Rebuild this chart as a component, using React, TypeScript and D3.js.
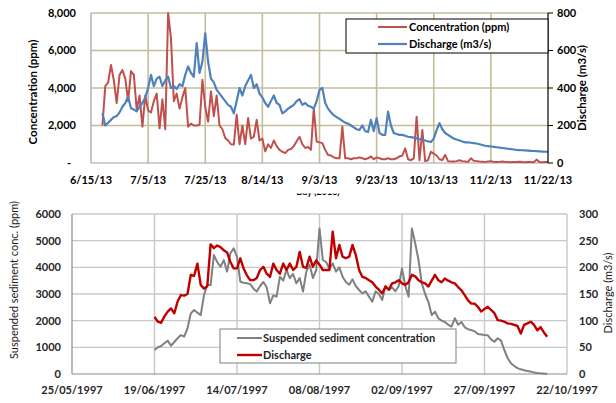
import React from "react";
import * as d3 from "d3";

// ---------- Top chart data (daily, starting 6/19/2013) ----------
const topStart = "2013-06-19";
const topConcentration = [
  2000, 4100, 4300, 5230, 4400, 3200, 4700, 4960, 4500, 3300,
  4900, 4700, 2830, 3600, 1940, 3600, 2800, 2700, 3300, 3700,
  1850, 3400, 1800, 8000, 6660, 3300, 3700, 2900, 3500, 4000,
  1940, 2100, 2000, 2000, 2040, 4440, 3000, 2200, 3820, 2500,
  3600, 2000, 1800, 1330, 1200, 1000, 980, 2580, 1000, 2000,
  1000, 2400, 1300, 1400, 2300, 1200, 1300, 620, 1000, 800,
  1200, 900, 700, 600, 530, 700, 750, 900, 1160, 1400,
  1000, 800, 850, 700, 2920, 1140, 1100, 1060, 700, 430,
  400, 300, 250, 250, 1940, 250, 250, 200, 250, 250,
  300, 250, 200, 250, 350, 200, 300, 250, 200, 200,
  250, 200, 200, 250, 350, 400, 780, 200, 150, 250,
  2470, 150, 1760, 100, 150, 600, 500, 400, 200, 160,
  430, 100, 80, 80, 100, 150, 100, 80, 60, 250,
  120, 100, 80, 70, 60, 80, 100, 60, 50, 60,
  80, 60, 50, 40, 60, 50, 70, 50, 40, 50,
  60, 40, 180, 50, 40, 60, 50,
];
const topDischarge = [
  265, 200, 215, 230, 245, 250, 270, 300, 320, 355,
  292, 285, 275, 300, 320, 350, 400, 470, 410, 450,
  460, 410, 440, 460, 400, 410, 395, 420, 410, 470,
  515, 480, 460, 640, 480, 540, 692, 540, 450, 430,
  390, 370, 350, 330, 310, 300, 265, 330, 400, 360,
  410, 440, 470, 400, 420, 370, 350, 320, 300, 330,
  360, 320, 310, 265, 275, 290, 300, 310, 330, 340,
  310, 320, 305, 300, 290, 330, 390, 400, 320, 290,
  270, 255, 245, 235, 225, 215, 210, 200, 190, 180,
  176, 200, 170, 165, 230, 170, 240, 160, 150, 150,
  274, 200, 160, 155, 150, 150, 145, 140, 138, 135,
  131, 127, 124, 120, 115, 112, 130, 175, 212, 180,
  160, 150, 140, 130, 125, 120, 115, 110, 110, 108,
  106, 104, 100, 96, 92, 90, 88, 86, 84, 82,
  80, 78, 76, 74, 72, 70, 69, 68, 67, 66,
  65, 64, 63, 62, 61, 60, 60,
];
const topXLabels = ["6/15/13", "7/5/13", "7/25/13", "8/14/13", "9/3/13", "9/23/13", "10/13/13", "11/2/13", "11/22/13"];
const topLeftTicks = [0, 2000, 4000, 6000, 8000];
const topRightTicks = [0, 200, 400, 600, 800];
const topSeriesNames = ["Concentration (ppm)", "Discharge (m3/s)"];

// ---------- Bottom chart data (daily, starting 19/06/1997) ----------
const botStart = "1997-06-19";
const botSSC = [
  900, 1000, 1050, 1150, 1250, 1060, 1200, 1340, 1460, 1400,
  1710, 2275, 2400, 2300, 2210, 2960, 3340, 3340, 4460, 4200,
  4020, 4270, 3840, 4530, 4710, 4400, 3460, 3420, 3400, 3370,
  3200, 3090, 3300, 3450, 3250, 2650, 2950, 2900, 3650, 3500,
  3900, 3600, 3750, 3400, 3600, 3090, 3840, 4100, 3600, 3900,
  5460, 4275, 4200, 3950, 4150, 3840, 4000, 3650, 3450, 3350,
  3550, 3300, 3150, 3025, 3100, 2900, 2710, 3100, 3000, 2775,
  3300, 3150, 3250, 3100, 3300, 3960, 3300, 2900, 5460, 4900,
  4275, 3400, 3000, 2700, 2210, 2340, 2090, 2000, 1950, 1850,
  1780, 2090, 1850, 1950, 1750, 1680, 1650, 1600, 1500, 1480,
  1460, 1450, 1300, 1210, 1340, 1250, 900, 600, 400, 300,
  220, 175, 140, 110, 90, 60, 40, 25, 15, 10,
];
const botDischarge = [
  107, 98, 96, 108, 117, 123, 114, 136, 148, 147,
  150, 186, 184, 207, 167, 160, 165, 243, 236, 241,
  238, 232, 228, 210, 198, 198, 217, 198, 185, 176,
  176, 180, 195, 201, 188, 182, 207, 195, 188, 207,
  195, 207, 195, 201, 229, 201, 199, 220, 201, 213,
  205, 195, 195, 195, 267, 217, 242, 220, 217, 220,
  242, 223, 195, 182, 180, 176, 172, 164, 158, 151,
  164, 158, 170, 172, 176, 170, 167, 172, 186, 183,
  176, 172, 170, 164, 175, 186, 176, 172, 179, 175,
  172, 170, 163, 157, 148, 138, 132, 132, 126, 117,
  122, 126, 120, 114, 101, 100, 98, 95, 94, 92,
  90, 76, 92, 95, 98, 92, 82, 88, 78, 70,
];
const botXLabels = ["25/05/1997", "19/06/1997", "14/07/1997", "08/08/1997", "02/09/1997", "27/09/1997", "22/10/1997"];
const botLeftTicks = [0, 1000, 2000, 3000, 4000, 5000, 6000];
const botRightTicks = [0, 50, 100, 150, 200, 250, 300];
const botSeriesNames = ["Suspended sediment concentration", "Discharge"];

const FONT = "Lato, 'Liberation Sans', sans-serif";

function TopChart() {
  const parseTop = d3.timeParse("%m/%d/%y");
  const tickDates = topXLabels.map((l) => parseTop(l) as Date);
  const x = d3.scaleTime().domain([tickDates[0], tickDates[tickDates.length - 1]]).range([91, 548]);
  const yL = d3.scaleLinear().domain([0, 8000]).range([163, 13]);
  const yR = d3.scaleLinear().domain([0, 800]).range([163, 13]);
  const start = d3.timeParse("%Y-%m-%d")(topStart) as Date;
  const lineL = d3.line<number>().x((_, i) => x(d3.timeDay.offset(start, i))).y((v) => yL(v));
  const lineR = d3.line<number>().x((_, i) => x(d3.timeDay.offset(start, i))).y((v) => yR(v));
  const grid = "#c4bd97";
  const fmt = (v: number) => (v === 0 ? "-" : d3.format(",")(v));
  return (
    <g fontFamily={FONT} fontWeight="bold" fontSize={11} fill="#000">
      {topLeftTicks.filter((t) => t > 0).map((t) => (
        <line key={"hg" + t} x1={91} x2={548} y1={yL(t)} y2={yL(t)} stroke={grid} strokeWidth={1.6} />
      ))}
      {tickDates.slice(1, -1).map((d, i) => (
        <line key={"vg" + i} x1={x(d)} x2={x(d)} y1={13} y2={163} stroke={grid} strokeWidth={1.6} />
      ))}
      <line x1={91} x2={91} y1={13} y2={163} stroke="#a0a0a0" strokeWidth={1.2} />
      <line x1={91} x2={548} y1={163} y2={163} stroke="#a0a0a0" strokeWidth={1.2} />
      <path d={lineL(topConcentration) || ""} fill="none" stroke="#c0504d" strokeWidth={2} strokeLinejoin="round" />
      <path d={lineR(topDischarge) || ""} fill="none" stroke="#4f81bd" strokeWidth={2.2} strokeLinejoin="round" />
      <line x1={548} x2={548} y1={13} y2={163} stroke="#000" strokeWidth={1.2} />
      {topRightTicks.map((t) => (
        <g key={"rt" + t}>
          <line x1={548} x2={553} y1={yR(t)} y2={yR(t)} stroke="#000" strokeWidth={1} />
          <text x={557} y={yR(t)} dy="0.35em">{t}</text>
        </g>
      ))}
      {topLeftTicks.map((t) => (
        <text key={"lt" + t} x={t === 0 ? 71 : 76} y={yL(t)} dy="0.35em" textAnchor="end">{fmt(t)}</text>
      ))}
      {tickDates.map((d, i) => (
        <text key={"xt" + i} x={x(d)} y={184} textAnchor="middle">{topXLabels[i]}</text>
      ))}
      <text transform="translate(37,92) rotate(-90)" textAnchor="middle" fontSize={11.5}>Concentration (ppm)</text>
      <text transform="translate(586,88) rotate(-90)" textAnchor="middle" fontSize={11.5}>Discharge (m3/s)</text>
      <rect x={346} y={19} width={202} height={34} fill="#fff" stroke="#000" strokeWidth={1} />
      <line x1={378} x2={407} y1={27} y2={27} stroke="#c0504d" strokeWidth={2} />
      <text x={409} y={27} dy="0.35em">{topSeriesNames[0]}</text>
      <line x1={378} x2={407} y1={44} y2={44} stroke="#4f81bd" strokeWidth={2.2} />
      <text x={409} y={44} dy="0.35em">{topSeriesNames[1]}</text>
    </g>
  );
}

function BottomChart() {
  const parseBot = d3.timeParse("%d/%m/%Y");
  const tickDates = botXLabels.map((l) => parseBot(l) as Date);
  const x = d3.scaleTime().domain([tickDates[0], tickDates[tickDates.length - 1]]).range([72, 567]);
  const yL = d3.scaleLinear().domain([0, 6000]).range([374, 214]);
  const yR = d3.scaleLinear().domain([0, 300]).range([374, 214]);
  const start = d3.timeParse("%Y-%m-%d")(botStart) as Date;
  const lineL = d3.line<number>().x((_, i) => x(d3.timeDay.offset(start, i))).y((v) => yL(v));
  const lineR = d3.line<number>().x((_, i) => x(d3.timeDay.offset(start, i))).y((v) => yR(v));
  const grid = "#c8c8c8";
  return (
    <g fontFamily={FONT} fontWeight="bold" fontSize={11} fill="#262626">
      {botLeftTicks.filter((t) => t > 0).map((t) => (
        <line key={"hg" + t} x1={72} x2={567} y1={yL(t)} y2={yL(t)} stroke={grid} strokeWidth={1.4} />
      ))}
      {tickDates.slice(1).map((d, i) => (
        <line key={"vg" + i} x1={x(d)} x2={x(d)} y1={214} y2={374} stroke={grid} strokeWidth={1.4} />
      ))}
      <line x1={72} x2={72} y1={214} y2={374} stroke="#8c8c8c" strokeWidth={1.2} />
      <line x1={72} x2={567} y1={374} y2={374} stroke="#8c8c8c" strokeWidth={1.2} />
      <path d={lineL(botSSC) || ""} fill="none" stroke="#808080" strokeWidth={2} strokeLinejoin="round" />
      <path d={lineR(botDischarge) || ""} fill="none" stroke="#c00000" strokeWidth={2.4} strokeLinejoin="round" />
      {botLeftTicks.map((t) => (
        <text key={"lt" + t} x={61} y={yL(t)} dy="0.35em" textAnchor="end">{t}</text>
      ))}
      {botRightTicks.map((t) => (
        <text key={"rt" + t} x={579} y={yR(t)} dy="0.35em">{t}</text>
      ))}
      {tickDates.map((d, i) => (
        <text key={"xt" + i} x={x(d)} y={394} textAnchor="middle">{botXLabels[i]}</text>
      ))}
      <text transform="translate(18,280) rotate(-90)" textAnchor="middle" fontWeight="normal" fill="#1a1a1a">Suspended sediment conc. (ppm)</text>
      <text transform="translate(612,293) rotate(-90)" textAnchor="middle" fontWeight="normal" fill="#1a1a1a">Discharge (m3/s)</text>
      <rect x={220} y={329} width={236} height={34} fill="#fff" stroke="#7f7f7f" strokeWidth={1} />
      <line x1={237} x2={262} y1={338} y2={338} stroke="#808080" strokeWidth={2} />
      <text x={263} y={338} dy="0.35em">{botSeriesNames[0]}</text>
      <line x1={237} x2={262} y1={355} y2={355} stroke="#c00000" strokeWidth={2.4} />
      <text x={263} y={355} dy="0.35em">{botSeriesNames[1]}</text>
    </g>
  );
}

export default function App() {
  return (
    <svg
      width={616}
      height={403}
      viewBox="0 0 616 403"
      style={{ position: "absolute", left: 0, top: 0, background: "#fff" }}
    >
      <rect x={0} y={0} width={616} height={403} fill="#fff" />
      <defs>
        <clipPath id="cutTitle">
          <rect x={250} y={193.5} width={140} height={4} />
        </clipPath>
      </defs>
      <TopChart />
      <text x={318} y={195} textAnchor="middle" fontFamily={FONT} fontWeight="bold" fontSize={9} clipPath="url(#cutTitle)">Day (2013)</text>
      <BottomChart />
    </svg>
  );
}
